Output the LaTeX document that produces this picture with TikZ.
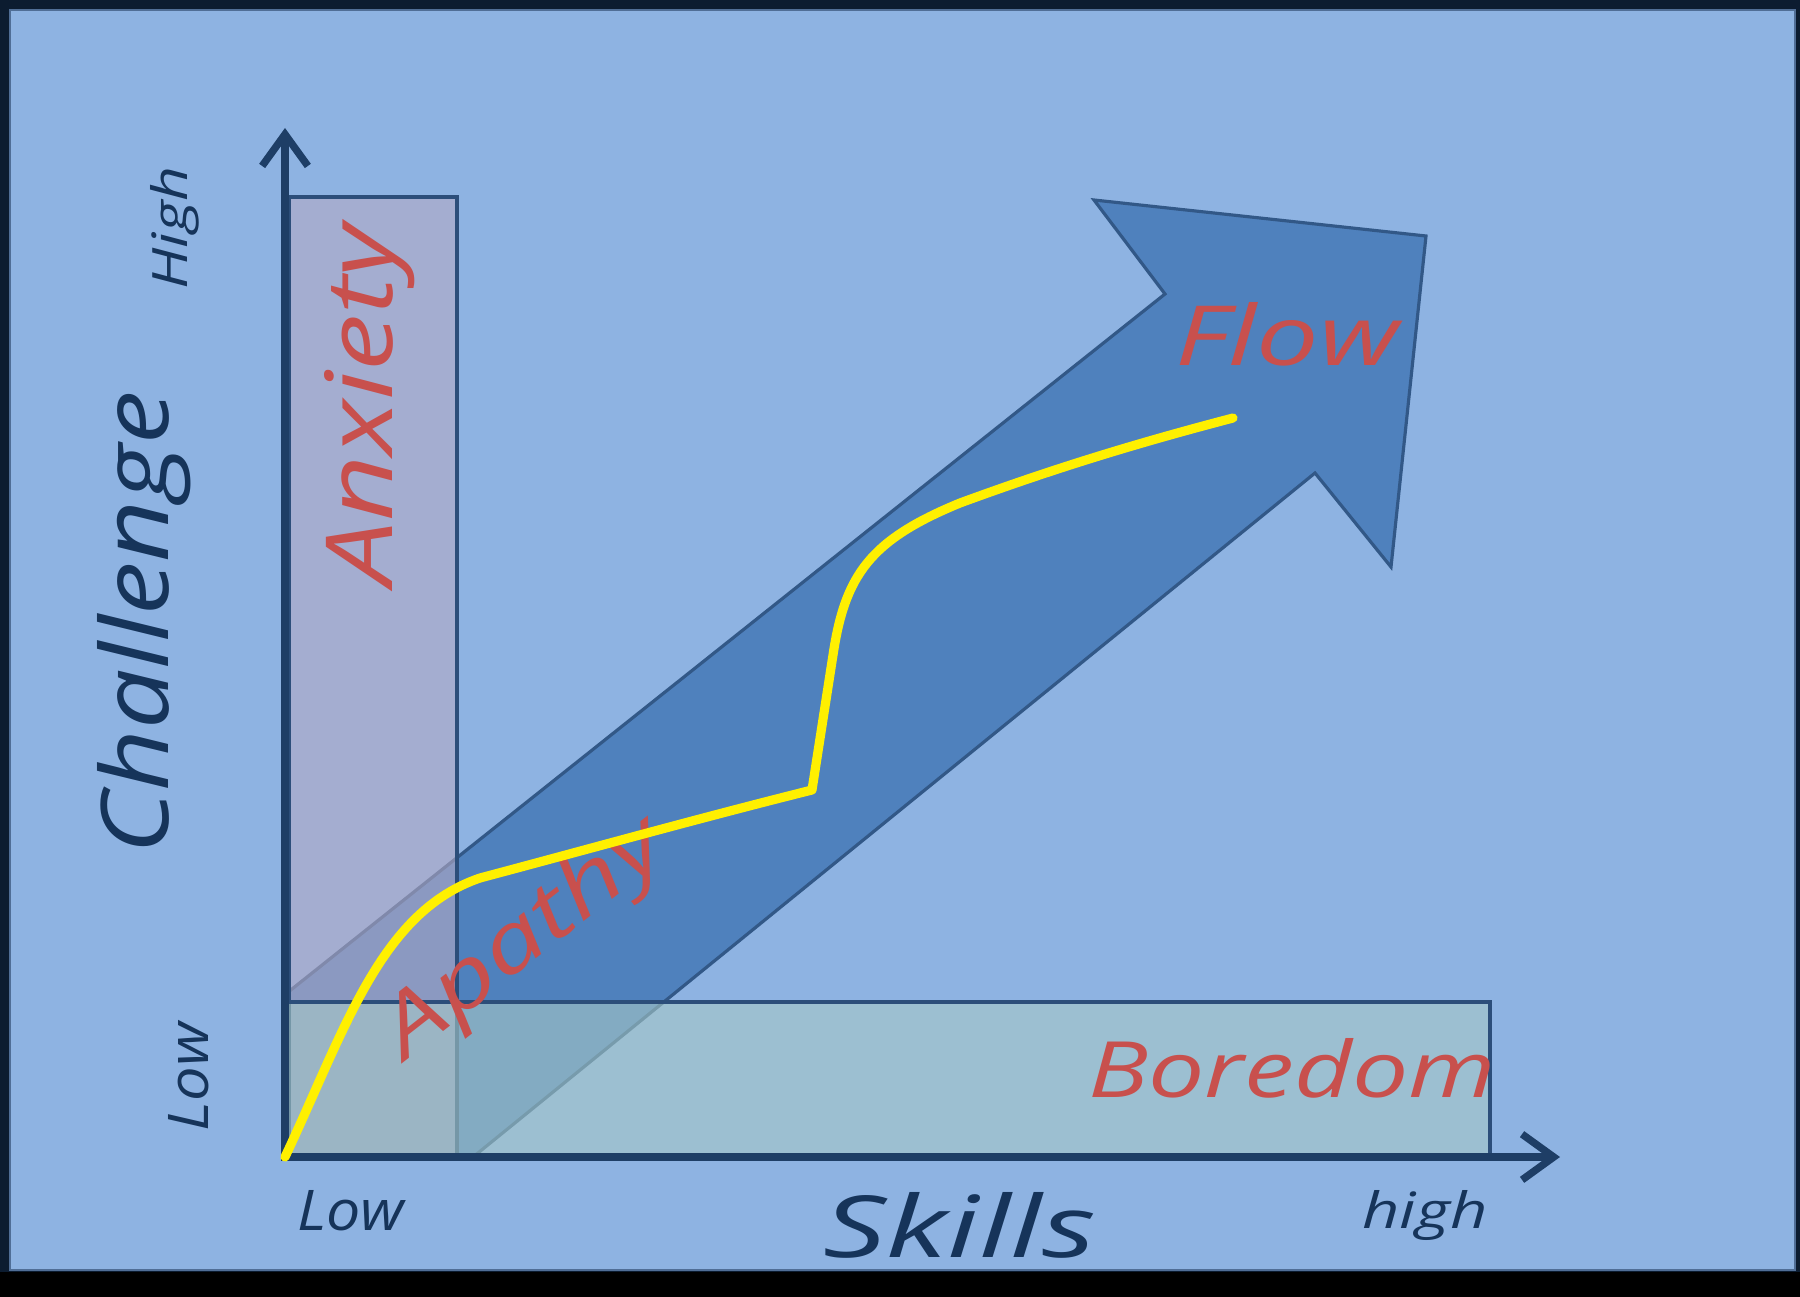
\documentclass[tikz,border=0pt]{standalone}
\usepackage{fontspec}
\setmainfont{Open Sans}
\usepackage{graphicx}
\usetikzlibrary{arrows.meta}
\definecolor{frame}{RGB}{12,28,48}
\definecolor{bgblue}{RGB}{142,179,226}
\definecolor{bgedge}{RGB}{80,110,150}
\definecolor{flowblue}{RGB}{79,129,189}
\definecolor{flowedge}{RGB}{50,88,135}
\definecolor{anxfill}{RGB}{180,170,196}
\definecolor{borfill}{RGB}{166,200,198}
\definecolor{rectedge}{RGB}{44,78,122}
\definecolor{axiscol}{RGB}{30,62,102}
\definecolor{labelred}{RGB}{200,80,77}
\definecolor{labelnavy}{RGB}{22,52,90}
\definecolor{curvecol}{RGB}{255,240,0}
\newcommand{\fittext}[3]{\resizebox{#1}{#2}{\itshape #3}}
\begin{document}
\begin{tikzpicture}[x=0.01cm,y=-0.01cm,
  lbl/.style={inner sep=0pt, anchor=base},
  navylbl/.style={lbl, text=labelnavy},
  redlbl/.style={lbl, text=labelred},
  arrowbody/.style={fill=flowblue, draw=flowedge, line width=0.9pt, line join=miter},
  zonebox/.style={draw=rectedge, line width=1.1pt, fill opacity=0.6},
  axisline/.style={draw=axiscol, line width=2.1pt, -{Straight Barb[length=9pt,width=13pt]}},
  flowcurve/.style={draw=curvecol, line width=2.6pt, line cap=round, line join=round}]
\useasboundingbox (0,0) rectangle (1800,1297);
% frame and background
\fill[frame] (0,0) rectangle (1800,1297);
\fill[black] (0,1272) rectangle (1800,1297);
\fill[bgblue, draw=bgedge, line width=0.6pt] (10,10) rectangle (1795,1270);
% big flow arrow
\draw[arrowbody] (287,993) -- (1165,294) -- (1094,200) -- (1426,236) -- (1391,567) -- (1315,473) -- (473,1157) -- (287,1157) -- cycle;
% zones
\draw[zonebox, fill=anxfill] (289,197) rectangle (457,1155);
\draw[zonebox, fill=borfill] (285,1002) rectangle (1490,1155);
% axes
\coordinate (O) at (285,1157);
\coordinate (Ytop) at (285,128);
\coordinate (Xend) at (1560,1157);
\coordinate (Ostart) at (281,1157);
\draw[axisline] (O) -- (Ytop);
\draw[axisline] (Ostart) -- (Xend);
% labels
\node[navylbl, rotate=90] (challenge) at (168,623) {\fittext{4.63cm}{0.71cm}{Challenge}};
\node[navylbl, rotate=90] (yhigh) at (187,228) {\fittext{1.23cm}{0.37cm}{High}};
\node[navylbl, rotate=90] (ylow) at (208,1077) {\fittext{1.08cm}{0.40cm}{Low}};
\node[navylbl] (xlow) at (351,1230) {\fittext{1.07cm}{0.40cm}{Low}};
\node[navylbl] (skills) at (960,1257) {\fittext{2.72cm}{0.65cm}{Skills}};
\node[navylbl] (xhigh) at (1425,1228) {\fittext{1.25cm}{0.38cm}{high}};
\node[redlbl, rotate=90] (anxiety) at (392,405) {\fittext{3.61cm}{0.68cm}{Anxiety}};
\node[redlbl] (boredom) at (1292,1097) {\fittext{4.07cm}{0.59cm}{Boredom}};
\node[redlbl] (flow) at (1287,366) {\fittext{2.23cm}{0.63cm}{Flow}};
\node[redlbl, rotate=38] (apathy) at (539,957) {\fittext{3.35cm}{0.62cm}{Apathy}};
% yellow path
\coordinate (kink) at (812,790);
\coordinate (cend) at (1233,418);
\draw[flowcurve] (O) .. controls (345,1030) and (380,912) .. (480,878)
  .. controls (600,846) and (700,818) .. (kink)
  -- (833,655) .. controls (845,575) and (870,540) .. (960,503)
  .. controls (1050,470) and (1130,445) .. (cend);
\end{tikzpicture}
\end{document}
